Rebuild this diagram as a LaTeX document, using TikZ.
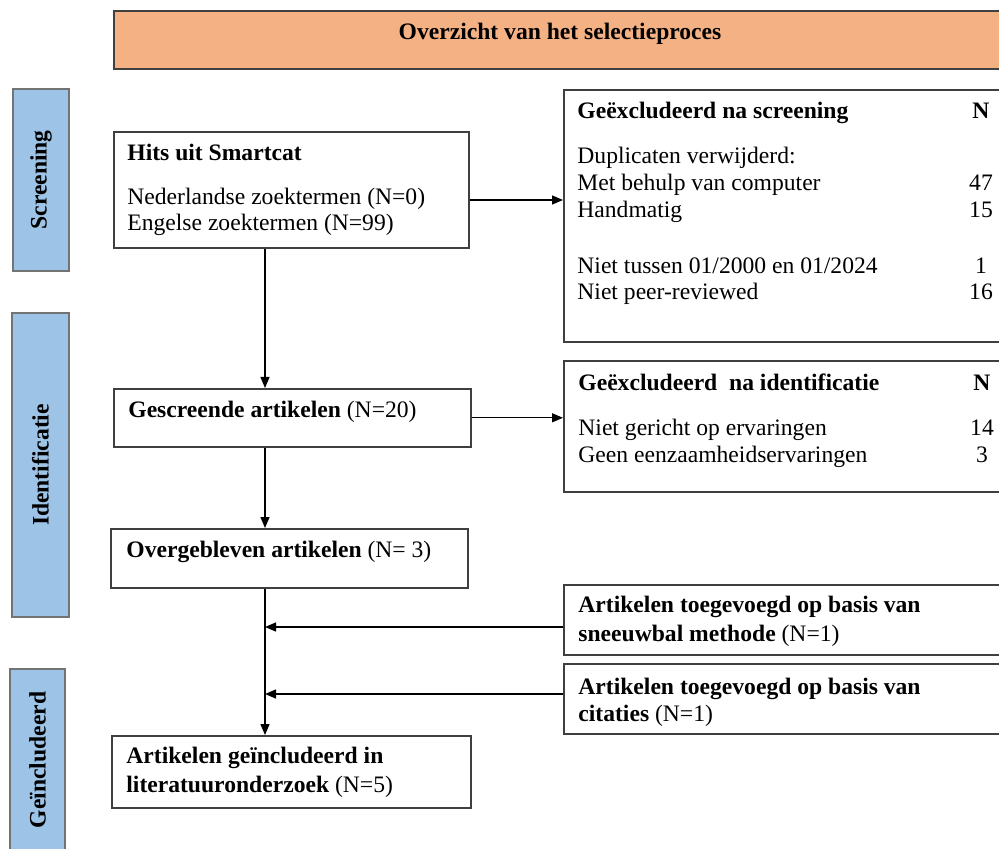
\documentclass[tikz,border=0pt]{standalone}
\usepackage{fontspec}
\setmainfont{Liberation Serif}
\usepackage{xcolor}
\usepackage{tikz}
\usetikzlibrary{arrows.meta}

\definecolor{koporanje}{HTML}{F4B183}
\definecolor{faseblauw}{HTML}{9DC3E6}
\definecolor{randgrijs}{HTML}{3F3F3F}

\begin{document}
\begin{tikzpicture}[x=0.5pt,y=-0.5pt,
		every node/.style={font=\fontsize{11.8}{13.4}\selectfont},
		kader/.style={shape=rectangle,draw=randgrijs,line width=0.8pt,inner sep=0pt,anchor=north west},
		fase/.style={shape=rectangle,draw=black!55,fill=faseblauw,line width=1pt,inner sep=0pt,rotate=90,font=\fontsize{11.8}{13.4}\selectfont\bfseries},
		tekst/.style={inner sep=0pt,anchor=base west,align=left},
		getal/.style={inner sep=0pt,anchor=base,align=center},
		pijl/.style={-{Triangle[length=5.5pt,width=4.5pt]},line width=0.65pt,black}]
			\useasboundingbox (0,0) rectangle (999,849);

			%% kop
			\node[kader,fill=koporanje,minimum width=446pt,minimum height=29pt] (kop) at (113,10) {};
			\node[inner sep=0pt,anchor=base,font=\fontsize{11.8}{13.4}\selectfont\bfseries] (koptekst) at (560,40) {Overzicht van het selectieproces};

			%% fases
			\node[fase,minimum width=91pt,minimum height=28pt] (screening) at (41,180) {Screening};
			\node[fase,minimum width=152pt,minimum height=28.5pt] (identificatie) at (40.5,465) {Identificatie};
			\node[fase,minimum width=91pt,minimum height=27.5pt] (geincl) at (37.5,760) {Geïncludeerd};

			%% linkerkolom (tekst hangt aan de basislijn van de laatste regel)
			\node[kader,minimum width=177.5pt,minimum height=58pt] (hits) at (113,131) {};
			\node[tekst] (hitstekst) at (127,231) {\textbf{Hits uit Smartcat}\\[8.6pt] Nederlandse zoektermen (N=0)\\ Engelse zoektermen (N=99)};
			\node[kader,minimum width=178.5pt,minimum height=29pt] (gescreend) at (113,388) {};
			\node[tekst] (gescreendtekst) at (128,417) {\textbf{Gescreende artikelen} (N=20)};
			\node[kader,minimum width=178.5pt,minimum height=29.5pt] (over) at (110,528) {};
			\node[tekst] (overtekst) at (126,557) {\textbf{Overgebleven artikelen} (N= 3)};
			\node[kader,minimum width=179.5pt,minimum height=36pt] (incl) at (111,735) {};
			\node[tekst] (incltekst) at (126,792) {\textbf{Artikelen geïncludeerd in}\\[1pt] \textbf{literatuuronderzoek} (N=5)};

			%% rechterkolom
			\node[kader,minimum width=221pt,minimum height=126pt] (exscreen) at (563,89) {};
			\node[tekst] (exscreentekst) at (577,300) {\textbf{Geëxcludeerd na screening}\\[9.1pt] Duplicaten verwijderd:\\ Met behulp van computer\\ Handmatig\\[14.6pt] Niet tussen 01/2000 en 01/2024\\ Niet peer-reviewed};
			\node[getal] (exscreenn) at (981,300) {\textbf{N}\\[9.1pt] \mbox{}\\ 47\\ 15\\[14.6pt] 1\\ 16};
			\node[kader,minimum width=221pt,minimum height=65.5pt] (exident) at (563,360) {};
			\node[tekst] (exidenttekst) at (578,462) {\textbf{Geëxcludeerd~ na identificatie}\\[9.1pt] Niet gericht op ervaringen\\ Geen eenzaamheidservaringen};
			\node[getal] (exidentn) at (982,462) {\textbf{N}\\[9.1pt] 14\\ 3};
			\node[kader,minimum width=221pt,minimum height=35pt] (sneeuw) at (563,584) {};
			\node[tekst] (sneeuwtekst) at (578,641) {\textbf{Artikelen toegevoegd op basis van}\\[1pt] \textbf{sneeuwbal methode} (N=1)};
			\node[kader,minimum width=221pt,minimum height=35pt] (citaat) at (563,663) {};
			\node[tekst] (citaattekst) at (578,721) {\textbf{Artikelen toegevoegd op basis van}\\ \textbf{citaties} (N=1)};

			%% lijnen
			\coordinate (as) at (265,0);
			\coordinate (rij1) at (0,200);
			\coordinate (rij3) at (0,627);
			\coordinate (rij4) at (0,694);
			\draw[pijl] (hits.east |- rij1) -- (exscreen.west |- rij1);
			\draw[pijl] (gescreend.east) -- (exident.west |- gescreend.east);
			\draw[pijl] (hits.south -| as) -- (gescreend.north -| as);
			\draw[pijl] (gescreend.south -| as) -- (over.north -| as);
			\draw[pijl] (over.south -| as) -- (incl.north -| as);
			\draw[pijl] (sneeuw.west |- rij3) -- (as |- rij3);
			\draw[pijl] (citaat.west |- rij4) -- (as |- rij4);
\end{tikzpicture}
\end{document}
